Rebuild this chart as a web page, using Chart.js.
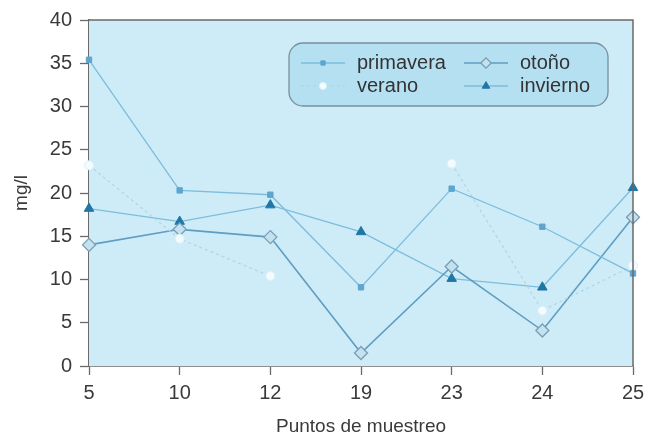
<!DOCTYPE html>
<html>
<head>
<meta charset="utf-8">
<script src="https://cdn.jsdelivr.net/npm/chart.js@4"></script>
<style>
  html, body { margin: 0; padding: 0; background: #fff; }
  #wrap { width: 660px; height: 437px; }
</style>
</head>
<body>
<div id="wrap"><canvas id="chart" width="660" height="437"></canvas></div>
<script>
const puntos = ["5", "10", "12", "19", "23", "24", "25"];
const primavera = [35.4, 20.3, 19.8, 9.1, 20.5, 16.1, 10.7];
const verano = [23.2, 14.7, 10.4, null, 23.4, 6.4, 11.6];
const otono = [14.0, 15.8, 14.9, 1.5, 11.5, 4.1, 17.2];
const invierno = [18.2, 16.7, 18.6, 15.5, 10.1, 9.1, 20.6];
const yTicks = [0, 5, 10, 15, 20, 25, 30, 35, 40];

const FONT = "'Liberation Sans', Arial, sans-serif";
const AXIS = "#6a6a6a";

// fondo del area de trazado + borde superior/derecho
const plotBox = {
    id: "plotBox",
    beforeDatasetsDraw(chart) {
        const { ctx, chartArea: a } = chart;
        ctx.save();
        ctx.fillStyle = "#cdecf7";
        ctx.fillRect(a.left, a.top, a.right - a.left, a.bottom - a.top);
        ctx.restore();
    },
    afterDatasetsDraw(chart) {
        const { ctx, chartArea: a } = chart;
        ctx.save();
        ctx.strokeStyle = AXIS;
        ctx.lineWidth = 1.5;
        ctx.beginPath();
        ctx.moveTo(a.left, a.top);
        ctx.lineTo(a.right, a.top);
        ctx.lineTo(a.right, a.bottom);
        ctx.stroke();
        ctx.restore();
    }
};

// leyenda en caja redondeada dentro del grafico
const boxLegend = {
    id: "boxLegend",
    afterDraw(chart) {
        const { ctx } = chart;
        const x0 = 289, y0 = 43, w = 319, h = 63, r = 14;
        ctx.save();
        ctx.beginPath();
        ctx.roundRect(x0, y0, w, h, r);
        ctx.fillStyle = "#b4e0f2";
        ctx.fill();
        ctx.strokeStyle = "#7a8f9a";
        ctx.lineWidth = 1.3;
        ctx.stroke();

        const slots = [
            { ds: 0, cx: 323, cy: 63 },
            { ds: 1, cx: 323, cy: 86 },
            { ds: 2, cx: 486, cy: 63 },
            { ds: 3, cx: 486, cy: 86 }
        ];
        ctx.font = "20px " + FONT;
        ctx.textBaseline = "middle";
        slots.forEach(s => {
            const d = chart.data.datasets[s.ds];
            ctx.save();
            ctx.strokeStyle = d.borderColor;
            ctx.lineWidth = d.borderWidth;
            ctx.setLineDash(d.borderDash || []);
            ctx.beginPath();
            ctx.moveTo(s.cx - 22, s.cy);
            ctx.lineTo(s.cx + 22, s.cy);
            ctx.stroke();
            ctx.fillStyle = d.pointBackgroundColor;
            ctx.strokeStyle = d.pointBorderColor;
            ctx.lineWidth = d.pointBorderWidth;
            ctx.setLineDash([]);
            Chart.helpers.drawPoint(ctx, {
                pointStyle: d.pointStyle,
                radius: d.pointRadius * 0.8,
                borderWidth: d.pointBorderWidth
            }, s.cx, s.cy);
            ctx.restore();
            ctx.fillStyle = "#333";
            ctx.fillText(d.label, s.cx + 34, s.cy);
        });
        ctx.restore();
    }
};

new Chart(document.getElementById("chart"), {
    type: "line",
    data: {
        labels: puntos,
        datasets: [
            {
                label: "primavera",
                data: primavera,
                borderColor: "#7dbddc",
                borderWidth: 1.3,
                pointStyle: "rect",
                pointRadius: 3.8,
                pointBackgroundColor: "#5ea5cf",
                pointBorderColor: "#5ea5cf",
                pointBorderWidth: 1
            },
            {
                label: "verano",
                data: verano,
                borderColor: "#b3d6e5",
                borderWidth: 1.3,
                borderDash: [3, 3],
                spanGaps: false,
                pointStyle: "circle",
                pointRadius: 4.5,
                pointBackgroundColor: "#f4fbfe",
                pointBorderColor: "#dcf0f8",
                pointBorderWidth: 1
            },
            {
                label: "otoño",
                data: otono,
                borderColor: "#5f9dc2",
                borderWidth: 1.6,
                pointStyle: "rectRot",
                pointRadius: 6.5,
                pointBackgroundColor: "#c2e2f1",
                pointBorderColor: "#7d9db2",
                pointBorderWidth: 1.3
            },
            {
                label: "invierno",
                data: invierno,
                borderColor: "#7dbddc",
                borderWidth: 1.3,
                pointStyle: "triangle",
                pointRadius: 5.5,
                pointBackgroundColor: "#1f77a6",
                pointBorderColor: "#1f77a6",
                pointBorderWidth: 1
            }
        ]
    },
    options: {
        responsive: false,
        animation: false,
        layout: { padding: { top: 17, right: 27, left: 0, bottom: 0 } },
        plugins: {
            legend: { display: false },
            tooltip: { enabled: false }
        },
        scales: {
            x: {
                offset: false,
                afterFit: s => { s.height = 71; },
                grid: { drawOnChartArea: false, tickLength: 9, tickColor: AXIS, tickWidth: 1.3 },
                border: { color: AXIS, width: 1.8 },
                ticks: { color: "#3a3a3a", padding: 6, font: { family: FONT, size: 20 }, maxRotation: 0 },
                title: {
                    display: true,
                    text: "Puntos de muestreo",
                    color: "#3a3a3a",
                    font: { family: FONT, size: 19, lineHeight: 1.1 },
                    padding: { top: 0, bottom: 0 }
                }
            },
            y: {
                min: 0,
                max: 40,
                afterFit: s => { s.width = 89; },
                afterBuildTicks: s => { s.ticks = yTicks.map(v => ({ value: v })); },
                grid: { drawOnChartArea: true, color: "rgba(255,255,255,0.25)", tickLength: 9, tickColor: AXIS, tickWidth: 1.3 },
                border: { color: AXIS, width: 1.8 },
                ticks: { color: "#3a3a3a", padding: 8, font: { family: FONT, size: 20 } },
                title: {
                    display: true,
                    text: "mg/l",
                    color: "#3a3a3a",
                    font: { family: FONT, size: 19, lineHeight: 1.1 },
                    padding: { top: 11, bottom: 0 }
                }
            }
        }
    },
    plugins: [plotBox, boxLegend]
});
</script>
</body>
</html>
